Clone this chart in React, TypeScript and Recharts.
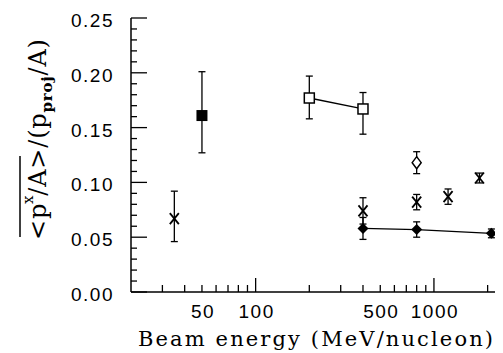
import React from 'react';
import { ComposedChart, Scatter, XAxis, YAxis, ErrorBar } from 'recharts';

// Beam energy (MeV/nucleon) and <p^x/A>/(p_proj/A) with [low, high] errors
const crossPoints = [
  { x: 35, y: 0.067, e: [0.021, 0.025] },
  { x: 400, y: 0.074, e: [0.012, 0.012] },
  { x: 800, y: 0.082, e: [0.007, 0.007] },
  { x: 1200, y: 0.087, e: [0.007, 0.007] },
  { x: 1800, y: 0.104, e: [0.0045, 0.0045] },
];
const filledSquarePoints = [{ x: 50, y: 0.161, e: [0.034, 0.04] }];
const openSquarePoints = [
  { x: 200, y: 0.177, e: [0.019, 0.02] },
  { x: 400, y: 0.167, e: [0.023, 0.015] },
];
const openDiamondPoints = [{ x: 800, y: 0.118, e: [0.01, 0.01] }];
const filledDiamondPoints = [
  { x: 400, y: 0.058, e: [0.01, 0.01] },
  { x: 800, y: 0.057, e: [0.007, 0.007] },
  { x: 2100, y: 0.0535, e: [0.004, 0.004] },
];

const xDomain = [20, 2200];
const xTicks = [30, 40, 50, 60, 70, 80, 90, 100, 200, 300, 400, 500, 600, 700, 800, 900, 1000, 2000];
const xMajor = [100, 1000];
const xLabels = [50, 100, 500, 1000];
const yDomain = [0, 0.25];
const yTicks = Array.from({ length: 26 }, (_, i) => i / 100);

const tickFont = { fontFamily: '"Liberation Sans", Arial, sans-serif', fontSize: 19, letterSpacing: 1.5 };
const serif = '"DejaVu Serif", "Liberation Serif", serif';

const BottomTick = (props: any) => {
  const { x, y, payload } = props;
  const v = payload.value;
  const len = xMajor.includes(v) ? 14 : 7;
  return (
    <g>
      <line x1={x} x2={x} y1={y} y2={y - len} stroke="#000" strokeWidth={1.3} />
      {xLabels.includes(v) && (
        <text x={x + 1} y={y + 26} textAnchor="middle" fill="#000" {...tickFont}>
          {v}
        </text>
      )}
    </g>
  );
};

const TopTick = (props: any) => {
  const { x, y, payload } = props;
  const v = payload.value;
  const len = xMajor.includes(v) ? 14 : 7;
  return <line x1={x} x2={x} y1={y} y2={y + len} stroke="#000" strokeWidth={1.3} />;
};

const LeftTick = (props: any) => {
  const { x, y, payload } = props;
  const v = payload.value;
  const major = Math.round(v * 100) % 5 === 0;
  return (
    <g>
      <line x1={x} x2={x + (major ? 16 : 6)} y1={y} y2={y} stroke="#000" strokeWidth={1.3} />
      {major && (
        <text x={x - 17} y={y + 9} textAnchor="end" fill="#000" {...tickFont}>
          {v.toFixed(2)}
        </text>
      )}
    </g>
  );
};

const XTitle = () => (
  <text
    x={138}
    y={346}
    fill="#000"
    fontFamily={serif}
    fontSize={21}
    textLength={355}
    lengthAdjust="spacing"
  >
    Beam energy (MeV/nucleon)
  </text>
);

const YTitle = () => (
  <g transform="translate(46,240) rotate(-90)">
    <line x1={3} x2={84} y1={-26} y2={-26} stroke="#000" strokeWidth={1.5} />
    <text x={0} y={0} fill="#000" fontFamily={serif} fontSize={24} letterSpacing={0.8}>
      <tspan>&lt;p</tspan>
      <tspan fontSize={15} dy={-13} dx={-1}>x</tspan>
      <tspan dy={13} dx={-1}>/A&gt;/(p</tspan>
      <tspan fontSize={15} fontWeight="bold" dy={6}>proj</tspan>
      <tspan dy={-6}>/A)</tspan>
    </text>
  </g>
);

const CrossShape = (p: any) => {
  const { cx, cy } = p;
  return (
    <g>
      <line x1={cx - 4.5} y1={cy - 5.5} x2={cx + 4.5} y2={cy + 5.5} stroke="#000" strokeWidth={1.8} />
      <line x1={cx - 4.5} y1={cy + 5.5} x2={cx + 4.5} y2={cy - 5.5} stroke="#000" strokeWidth={1.8} />
    </g>
  );
};
const FilledSquareShape = (p: any) => <rect x={p.cx - 5.5} y={p.cy - 5.5} width={11} height={11} fill="#000" />;
const OpenSquareShape = (p: any) => (
  <rect x={p.cx - 5} y={p.cy - 5} width={10} height={10} fill="#fff" stroke="#000" strokeWidth={1.5} />
);
const OpenDiamondShape = (p: any) => (
  <polygon
    points={`${p.cx},${p.cy - 6} ${p.cx + 4.5},${p.cy} ${p.cx},${p.cy + 6} ${p.cx - 4.5},${p.cy}`}
    fill="#fff"
    stroke="#000"
    strokeWidth={1.5}
  />
);
const FilledDiamondShape = (p: any) => (
  <polygon
    points={`${p.cx},${p.cy - 5.5} ${p.cx + 5.5},${p.cy} ${p.cx},${p.cy + 5.5} ${p.cx - 5.5},${p.cy}`}
    fill="#000"
  />
);

const errProps = { dataKey: 'e', width: 3.5, stroke: '#000', strokeWidth: 1.3, direction: 'y' as const, isAnimationActive: false };

export default function App() {
  return (
    <div style={{ position: 'absolute', left: 0, top: 0, background: '#fff' }}>
      <ComposedChart width={503} height={353} margin={{ top: 18, right: 8, bottom: 0, left: 0 }}>
        <XAxis
          xAxisId="b"
          dataKey="x"
          type="number"
          scale="log"
          domain={xDomain}
          allowDataOverflow
          ticks={xTicks}
          interval={0}
          tickSize={0}
          tickMargin={0}
          tick={<BottomTick />}
          tickLine={false}
          axisLine={{ stroke: '#000', strokeWidth: 1.5 }}
          height={61}
          label={<XTitle />}
        />
        <XAxis
          xAxisId="t"
          orientation="top"
          dataKey="x"
          type="number"
          scale="log"
          domain={xDomain}
          allowDataOverflow
          ticks={xTicks}
          interval={0}
          tickSize={0}
          tickMargin={0}
          tick={<TopTick />}
          tickLine={false}
          axisLine={{ stroke: '#000', strokeWidth: 1.5 }}
          height={0}
        />
        <YAxis
          yAxisId="l"
          type="number"
          domain={yDomain}
          allowDataOverflow
          ticks={yTicks}
          interval={0}
          tickSize={0}
          tickMargin={0}
          tick={<LeftTick />}
          tickLine={false}
          axisLine={{ stroke: '#000', strokeWidth: 1.5 }}
          width={131}
          label={<YTitle />}
        />
        <YAxis
          yAxisId="r"
          orientation="right"
          type="number"
          domain={yDomain}
          allowDataOverflow
          tick={false}
          tickLine={false}
          axisLine={{ stroke: '#000', strokeWidth: 1.5 }}
          width={0}
        />
        <Scatter xAxisId="t" yAxisId="r" data={crossPoints} dataKey="y" shape={() => <g />} isAnimationActive={false} />
        <Scatter xAxisId="b" yAxisId="l" data={crossPoints} dataKey="y" shape={CrossShape} isAnimationActive={false}>
          <ErrorBar {...errProps} />
        </Scatter>
        <Scatter xAxisId="b" yAxisId="l" data={filledSquarePoints} dataKey="y" shape={FilledSquareShape} isAnimationActive={false}>
          <ErrorBar {...errProps} />
        </Scatter>
        <Scatter
          xAxisId="b"
          yAxisId="l"
          data={openSquarePoints}
          dataKey="y"
          shape={OpenSquareShape}
          line={{ stroke: '#000', strokeWidth: 1.3 }}
          isAnimationActive={false}
        >
          <ErrorBar {...errProps} />
        </Scatter>
        <Scatter xAxisId="b" yAxisId="l" data={openDiamondPoints} dataKey="y" shape={OpenDiamondShape} isAnimationActive={false}>
          <ErrorBar {...errProps} />
        </Scatter>
        <Scatter
          xAxisId="b"
          yAxisId="l"
          data={filledDiamondPoints}
          dataKey="y"
          shape={FilledDiamondShape}
          line={{ stroke: '#000', strokeWidth: 1.3 }}
          isAnimationActive={false}
        >
          <ErrorBar {...errProps} />
        </Scatter>
      </ComposedChart>
    </div>
  );
}
